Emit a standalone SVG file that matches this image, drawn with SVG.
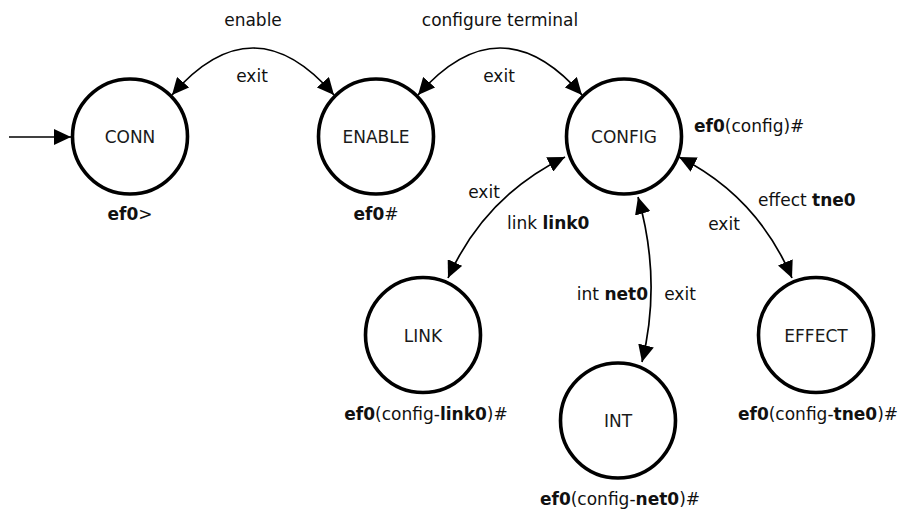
<svg xmlns="http://www.w3.org/2000/svg" width="901" height="510" viewBox="0 0 901 510">
  <defs>
    <style>
      .state { fill: #fff; stroke: #000; stroke-width: 3.6; }
      .name { font-family: "DejaVu Sans", Verdana, sans-serif; font-size: 17px; fill: #1a1a1a; text-anchor: middle; }
      .lbl { font-family: "DejaVu Sans", Verdana, sans-serif; font-size: 17px; fill: #111; }
      .mid { text-anchor: middle; }
      .end { text-anchor: end; }
      .b { font-weight: bold; }
      .edge { fill: none; stroke: #000; stroke-width: 1.7; marker-end: url(#head); }
      .both { marker-start: url(#head); }
    </style>
    <marker id="head" viewBox="0 0 17 16" refX="17" refY="8" markerWidth="17" markerHeight="16" markerUnits="userSpaceOnUse" orient="auto-start-reverse">
      <path d="M0,0 L17,8 L0,16 z" fill="#000"/>
    </marker>
  </defs>

  <rect width="901" height="510" fill="#fff"/>

  <!-- transitions -->
  <g id="connectors">
    <path class="edge" d="M9,137 L71,137"/>
    <path class="edge both" d="M172,95 Q253,1 334,95"/>
    <path class="edge both" d="M418,95 Q500,1 582,95"/>
    <path class="edge both" d="M565,157 Q485,196 448,278"/>
    <path class="edge both" d="M638,197 Q662,280 642,362"/>
    <path class="edge both" d="M679,157 Q757,196 792,278"/>

    <text class="lbl mid" x="253" y="26">enable</text>
    <text class="lbl mid" x="252" y="82">exit</text>
    <text class="lbl mid" x="500" y="26">configure terminal</text>
    <text class="lbl mid" x="499" y="82">exit</text>
    <text class="lbl mid" x="484" y="198">exit</text>
    <text class="lbl" x="507" y="229">link <tspan class="b">link0</tspan></text>
    <text class="lbl end" x="648" y="300">int <tspan class="b">net0</tspan></text>
    <text class="lbl mid" x="680" y="300">exit</text>
    <text class="lbl" x="758" y="206">effect <tspan class="b">tne0</tspan></text>
    <text class="lbl mid" x="724" y="230">exit</text>
  </g>

  <g id="conn">
    <circle class="state" cx="130" cy="136.5" r="57.5"/>
    <text class="name" x="130" y="143">CONN</text>
    <text class="lbl mid" x="130" y="220"><tspan class="b">ef0</tspan>&gt;</text>
  </g>

  <g id="enable">
    <circle class="state" cx="376" cy="136.5" r="57.5"/>
    <text class="name" x="376" y="143">ENABLE</text>
    <text class="lbl mid" x="376" y="220"><tspan class="b">ef0</tspan>#</text>
  </g>

  <g id="config">
    <circle class="state" cx="624" cy="136.5" r="57.5"/>
    <text class="name" x="624" y="143">CONFIG</text>
    <text class="lbl" x="694" y="132"><tspan class="b">ef0</tspan>(config)#</text>
  </g>

  <g id="link">
    <circle class="state" cx="423" cy="335" r="57.5"/>
    <text class="name" x="423" y="341.5">LINK</text>
    <text class="lbl mid" x="426" y="420"><tspan class="b">ef0</tspan>(config-<tspan class="b">link0</tspan>)#</text>
  </g>

  <g id="int">
    <circle class="state" cx="618" cy="420.5" r="57.5"/>
    <text class="name" x="618" y="427">INT</text>
    <text class="lbl mid" x="620" y="505"><tspan class="b">ef0</tspan>(config-<tspan class="b">net0</tspan>)#</text>
  </g>

  <g id="effect">
    <circle class="state" cx="816" cy="335" r="57.5"/>
    <text class="name" x="816" y="341.5">EFFECT</text>
    <text class="lbl mid" x="818" y="420"><tspan class="b">ef0</tspan>(config-<tspan class="b">tne0</tspan>)#</text>
  </g>
</svg>
